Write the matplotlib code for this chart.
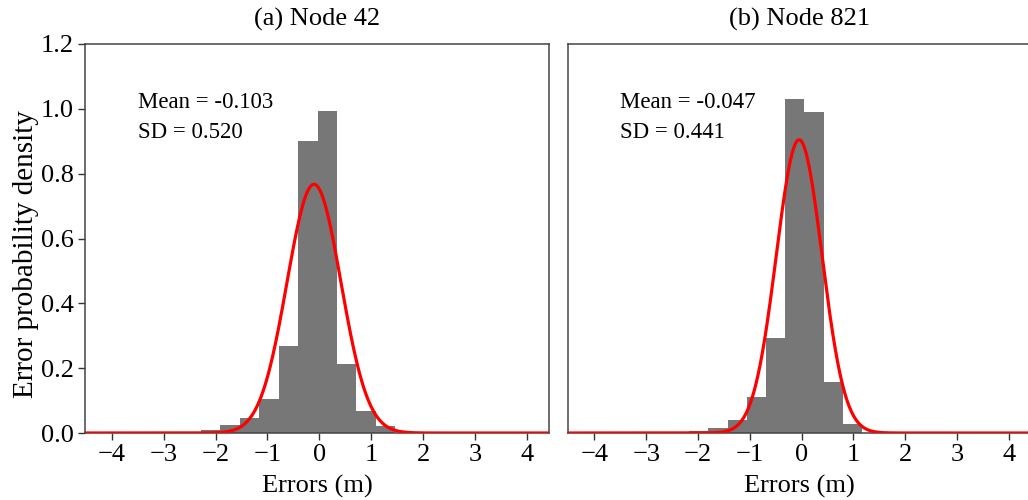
import numpy as np
import matplotlib
matplotlib.use("Agg")
import matplotlib.pyplot as plt

plt.rcParams['font.family'] = ['Liberation Serif', 'DejaVu Serif']

titles = ["(a) Node 42", "(b) Node 821"]
means = [-0.103, -0.047]
sds = [0.520, 0.441]

edges_a = [-2.66, -2.285, -1.91, -1.535, -1.16, -0.785, -0.41, -0.035, 0.34, 0.715, 1.09, 1.465]
dens_a = [0.003, 0.009, 0.024, 0.046, 0.104, 0.268, 0.902, 0.992, 0.213, 0.068, 0.022]

edges_b = [-2.17, -1.799, -1.428, -1.057, -0.686, -0.315, 0.056, 0.427, 0.798, 1.169]
dens_b = [0.007, 0.015, 0.041, 0.110, 0.292, 1.031, 0.989, 0.158, 0.028]

xticks = [-4, -3, -2, -1, 0, 1, 2, 3, 4]
yticks = [0.0, 0.2, 0.4, 0.6, 0.8, 1.0, 1.2]

W, H = 1028, 500
fig = plt.figure(figsize=(W / 100, H / 100), dpi=100)

bottom_px, top_px = 433, 44
positions = [(85, 549), (567.5, 1031)]
axes = []
for (l, r) in positions:
    ax = fig.add_axes([l / W, 1 - bottom_px / H, (r - l) / W, (bottom_px - top_px) / H])
    axes.append(ax)

datasets = [(edges_a, dens_a), (edges_b, dens_b)]
xlim = (-4.52, 4.43)
xs = np.linspace(xlim[0], xlim[1], 600)

for i, ax in enumerate(axes):
    edges, dens = datasets[i]
    edges = np.asarray(edges)
    ax.bar(edges[:-1], dens, width=np.diff(edges), align='edge',
           color='#777777', edgecolor='none', linewidth=0, zorder=1)
    mu, sd = means[i], sds[i]
    pdf = np.exp(-0.5 * ((xs - mu) / sd) ** 2) / (sd * np.sqrt(2 * np.pi))
    ax.plot(xs, pdf, color='#ff0000', lw=2.3, zorder=3, clip_on=True)
    ax.set_xlim(*xlim)
    ax.set_ylim(0, 1.2)
    ax.set_xticks(xticks)
    ax.set_xticklabels([f"\u2212{abs(t)}" if t < 0 else str(t) for t in xticks])
    ax.set_yticks(yticks)
    ax.tick_params(axis='both', labelsize=19, direction='out', length=5, width=1,
                   color='#333333', pad=3)
    for s in ax.spines.values():
        s.set_color('#444444')
        s.set_linewidth(1.1)
    ax.set_title(titles[i], fontsize=19, pad=13)
    ax.set_xlabel("Errors (m)", fontsize=19, labelpad=6)
    ax.text(-3.5, 1.02, f"Mean = {mu:.3f}", fontsize=16.5, va='center', ha='left')
    ax.text(-3.5, 0.928, f"SD = {sd:.3f}", fontsize=16.5, va='center', ha='left')

axes[0].set_yticklabels([f"{t:.1f}" for t in yticks])
axes[0].set_ylabel("Error probability density", fontsize=21)
axes[0].yaxis.set_label_coords(-0.10, 0.46)
axes[1].tick_params(axis='y', left=False, labelleft=False)

fig.savefig("out.png", dpi=100)
